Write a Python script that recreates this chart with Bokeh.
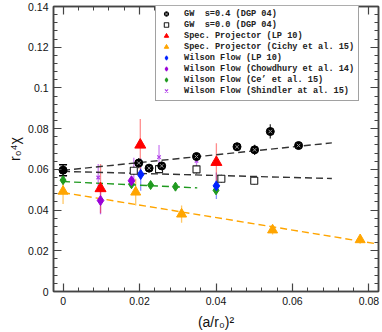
import numpy as np
from bokeh.plotting import figure
from bokeh.models import (FixedTicker, LinearAxis, Legend, LegendItem, Range1d,
                          ColumnDataSource, Whisker)
from bokeh.embed import file_html
from bokeh.resources import INLINE

# ---------------- data ----------------
# GW s=0.4 (DGP 04)
gw04_x = [0.0198, 0.0225, 0.0258, 0.0349, 0.0455, 0.0501, 0.0542, 0.0616]
gw04_y = [0.0631, 0.0606, 0.0617, 0.0663, 0.0711, 0.0696, 0.0786, 0.0717]
gw04_e = [0.0025, 0.0020, 0.0020, 0.0015, 0.0020, 0.0025, 0.0035, 0.0015]
# continuum value (x = 0)
gwc_x = [0.0]
gwc_y = [0.0596]
gwc_e = [0.0027]
# GW s=0.0 (DGP 04)
gw00_x = [0.0185, 0.0251, 0.0349, 0.0414, 0.0500]
gw00_y = [0.0593, 0.0601, 0.0600, 0.0554, 0.0544]
gw00_e = [0.0020, 0.0020, 0.0020, 0.0020, 0.0020]
# fits
fit04_x = [0.0, 0.0703]
fit04_y = [0.0595, 0.0730]
fit00_x = [0.0, 0.0703]
fit00_y = [0.0590, 0.0555]
# Spec. Projector (LP 10)
splp_x = [0.0098, 0.0202, 0.0401]
splp_y = [0.0506, 0.0720, 0.0635]
splp_e = [0.0120, 0.0127, 0.0093]
# Spec. Projector (Cichy et al. 15)
spc_x = [0.0, 0.0190, 0.0310, 0.0548, 0.0777]
spc_y = [0.0492, 0.0488, 0.0380, 0.0302, 0.0254]
spc_e = [0.0062, 0.0066, 0.0042, 0.0022, 0.0020]
fitc_x = [0.0, 0.0824]
fitc_y = [0.0486, 0.0233]
# Wilson Flow (LP 10)
wflp_x = [0.0203, 0.0401]
wflp_y = [0.0575, 0.0519]
wflp_e = [0.0080, 0.0065]
# Wilson Flow (Chowdhury et al. 14)
wfch_x = [0.0098, 0.0179]
wfch_y = [0.0447, 0.0544]
wfch_e = [0.0068, 0.0020]
# Wilson Flow (Ce' et al. 15)
wfce_x = [0.0, 0.0179, 0.0229, 0.0294, 0.0400]
wfce_y = [0.0547, 0.0527, 0.0523, 0.0515, 0.0497]
wfce_e = [0.0010, 0.0010, 0.0010, 0.0010, 0.0010]
fitce_x = [0.0, 0.0351]
fitce_y = [0.0540, 0.0509]
# Wilson Flow (Shindler at al. 15)
wfsh_x = [0.0092, 0.0185, 0.0251, 0.0349]
wfsh_y = [0.0560, 0.0597, 0.0660, 0.0642]
wfsh_e = [0.0066, 0.0060, 0.0060, 0.0020]

x_ticks = [0, 0.02, 0.04, 0.06, 0.08]
y_ticks = [0, 0.02, 0.04, 0.06, 0.08, 0.1, 0.12, 0.14]

labels = ["GW\u00a0\u00a0s=0.4 (DGP 04)",
          "GW\u00a0\u00a0s=0.0 (DGP 04)",
          "Spec. Projector (LP 10)",
          "Spec. Projector (Cichy et al. 15)",
          "Wilson Flow (LP 10)",
          "Wilson Flow (Chowdhury et al. 14)",
          "Wilson Flow (Ce\u2019 et al. 15)",
          "Wilson Flow (Shindler at al. 15)"]

# ---------------- figure ----------------
FONT = "Liberation Sans"
p = figure(frame_width=325, frame_height=285,
           x_range=Range1d(-0.0025, 0.0825), y_range=Range1d(0, 0.14),
           output_backend="svg", toolbar_location=None,
           min_border_top=6, min_border_right=3, min_border_left=53,
           min_border_bottom=10)
p.xgrid.visible = False
p.ygrid.visible = False
p.outline_line_color = "#444444"
p.outline_line_width = 1.5

x_minor = [float(v) for v in np.round(np.arange(0, 0.0825, 0.004), 4)]
y_minor = [float(v) for v in np.round(np.arange(0, 0.1401, 0.004), 4)]
x_over = {t: ("0" if t == 0 else f"{t:g}") for t in x_ticks}
y_over = {t: ("0" if t == 0 else f"{t:g}") for t in y_ticks}


def style_axis(ax, ticks, minor, over, labels_on=True):
    ax.ticker = FixedTicker(ticks=ticks, minor_ticks=minor)
    ax.major_tick_in = 8
    ax.major_tick_out = 0
    ax.minor_tick_in = 4
    ax.minor_tick_out = 0
    ax.axis_line_color = "#444444"
    ax.axis_line_width = 1.5
    ax.major_tick_line_color = "#444444"
    ax.minor_tick_line_color = "#444444"
    ax.major_tick_line_width = 1.2
    ax.minor_tick_line_width = 1
    if labels_on:
        ax.major_label_overrides = over
        ax.major_label_text_font = FONT
        ax.major_label_text_font_size = "10.5px"
        ax.major_label_text_color = "#111111"
        ax.major_label_standoff = 5
    else:
        ax.major_label_overrides = {t: "" for t in ticks}
        ax.major_label_standoff = 0


style_axis(p.xaxis[0], x_ticks, x_minor, x_over)
style_axis(p.yaxis[0], y_ticks, y_minor, y_over)
p.xaxis.axis_label = "(a/r\u2080)\u00b2"
p.yaxis.axis_label = "r\u2080\u2074\u03c7"
for ax in (p.xaxis[0], p.yaxis[0]):
    ax.axis_label_text_font = FONT
    ax.axis_label_text_font_size = "14px"
    ax.axis_label_text_font_style = "normal"
    ax.axis_label_text_color = "#111111"
p.xaxis[0].axis_label_standoff = 6
p.yaxis[0].axis_label_standoff = 2

top = LinearAxis()
style_axis(top, x_ticks, x_minor, x_over, labels_on=False)
p.add_layout(top, "above")
right = LinearAxis()
style_axis(right, y_ticks, y_minor, y_over, labels_on=False)
p.add_layout(right, "right")


def errbars(xs, ys, es, color, alpha=1.0, width=1.3):
    lo = [y - e for y, e in zip(ys, es)]
    hi = [y + e for y, e in zip(ys, es)]
    p.segment(x0=xs, y0=lo, x1=xs, y1=hi, line_color=color, line_alpha=alpha,
              line_width=width)


# error bars
errbars(wfce_x, wfce_y, wfce_e, "#1f9a1f", 0.8)
errbars(wfch_x, wfch_y, wfch_e, "#9a22e0", 0.7)
errbars(wflp_x, wflp_y, wflp_e, "#3344ff", 0.6)
errbars(wfsh_x, wfsh_y, wfsh_e, "#c060f0", 0.8)
errbars(spc_x, spc_y, spc_e, "#ffa500", 0.6)
errbars(splp_x, splp_y, splp_e, "#ff3030", 0.55)
errbars(gw00_x, gw00_y, gw00_e, "#222222", 0.9)
errbars(gw04_x, gw04_y, gw04_e, "#222222", 0.9)
wsrc = ColumnDataSource(dict(x=gwc_x, lo=[y - e for y, e in zip(gwc_y, gwc_e)],
                             hi=[y + e for y, e in zip(gwc_y, gwc_e)]))
wk = Whisker(base="x", lower="lo", upper="hi", source=wsrc, line_color="black",
             line_width=1.3)
wk.upper_head.size = 8
wk.lower_head.size = 8
wk.upper_head.line_color = "black"
wk.lower_head.line_color = "black"
wk.upper_head.line_width = 1.5
wk.lower_head.line_width = 1.5
p.add_layout(wk)

# fit lines
p.line(fit04_x, fit04_y, line_color="#333333", line_dash="7 4", line_width=1.4)
p.line(fit00_x, fit00_y, line_color="#333333", line_dash="7 4", line_width=1.4)
p.line(fitc_x, fitc_y, line_color="#ffa500", line_dash="7 4", line_width=1.4)
p.line(fitce_x, fitce_y, line_color="#1f9a1f", line_dash="7 4", line_width=1.4)

# markers
r_ce = p.scatter(wfce_x, wfce_y, marker="diamond", size=9, fill_color="#1f9a1f",
                 line_color="#1f9a1f")
r_ch = p.scatter(wfch_x, wfch_y, marker="diamond", size=10, fill_color="#9a00d8",
                 line_color="#9a00d8")
r_lp = p.scatter(wflp_x, wflp_y, marker="diamond", size=10, fill_color="#0022ff",
                 line_color="#0022ff")
r_sh = p.scatter(wfsh_x, wfsh_y, marker="x", size=5, line_color="#b040e8",
                 line_width=1.2)
r_spc = p.scatter(spc_x, spc_y, marker="triangle", size=10, fill_color="#ffa500",
                  line_color="#ffa500")
r_splp = p.scatter(splp_x, splp_y, marker="triangle", size=11, fill_color="#ff0000",
                   line_color="#ff0000")
r_sq = p.scatter(gw00_x, gw00_y, marker="square", size=7, fill_color="white",
                 line_color="#222222", line_width=1.1)
r_c1 = p.scatter(gw04_x, gw04_y, marker="circle", size=8, fill_color="black",
                 line_color="black")
r_c2 = p.scatter(gw04_x, gw04_y, marker="x", size=5, line_color="#9a9a9a",
                 line_width=1)
p.scatter(gwc_x, gwc_y, marker="circle", size=8, fill_color="black",
          line_color="black")

legend = Legend(items=[
    LegendItem(label=labels[0], renderers=[r_c1, r_c2]),
    LegendItem(label=labels[1], renderers=[r_sq]),
    LegendItem(label=labels[2], renderers=[r_splp]),
    LegendItem(label=labels[3], renderers=[r_spc]),
    LegendItem(label=labels[4], renderers=[r_lp]),
    LegendItem(label=labels[5], renderers=[r_ch]),
    LegendItem(label=labels[6], renderers=[r_ce]),
    LegendItem(label=labels[7], renderers=[r_sh]),
], location=(102, 190))
legend.label_text_font = "Liberation Mono"
legend.label_text_font_style = "bold"
legend.label_text_font_size = "8.6px"
legend.label_text_color = "#222222"
legend.glyph_width = 12
legend.glyph_height = 11
legend.label_height = 11
legend.spacing = 0
legend.label_standoff = 12
legend.padding = 4
legend.margin = 0
legend.border_line_color = "#444444"
legend.border_line_width = 1
legend.background_fill_color = "white"
legend.background_fill_alpha = 1
p.add_layout(legend)

open("out.html", "w").write(file_html(p, INLINE))
